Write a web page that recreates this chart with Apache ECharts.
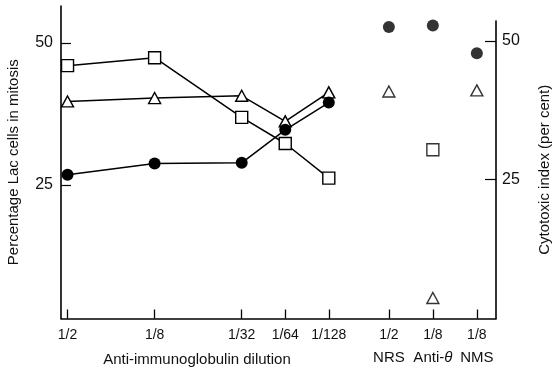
<!DOCTYPE html>
<html>
<head>
<meta charset="utf-8">
<script src="https://cdn.jsdelivr.net/npm/echarts@6/dist/echarts.min.js"></script>
<style>
html,body{margin:0;padding:0;background:#fff;}
#chart{width:552px;height:370px;}
</style>
</head>
<body>
<div id="chart"></div>
<script>
// ---- data ----
const xLeftLabels = ['1/2', '1/8', '1/32', '1/64', '1/128'];
const xLeft = [1, 3, 5, 6, 7];            // log2 of dilution denominator
const xRightLabels = ['1/2', '1/8', '1/8'];
const xRightGroups = ['NRS', 'Anti-', 'NMS'];
const xRight = [8.38, 9.39, 10.4];
const squareLeft = [46.0, 47.4, 36.9, 32.3, 26.2];
const triangleLeft = [39.7, 40.3, 40.7, 36.2, 41.3];
const circleLeft = [26.8, 28.8, 28.9, 34.7, 39.5];
const circleRight = [52.5, 52.8, 47.8];
const triangleRight = [40.9, 3.7, 41.1];
const squareRight = [null, 30.4, null];
const yTicks = [25, 50];

// ---- build ----
const FONT = 'Liberation Sans';
const allX = xLeft.concat(xRight);
function pairs(xs, ys) { return xs.map((x, i) => [x, ys[i]]).filter(p => p[1] != null); }
function xLabel(v) {
  let best = 0, bd = 1e9;
  allX.forEach((x, i) => { const d = Math.abs(x - v); if (d < bd) { bd = d; best = i; } });
  if (best < xLeft.length) return '{a|' + xLeftLabels[best] + '}';
  const j = best - xLeft.length;
  const g = xRightGroups[j];
  if (g === 'Anti-') return '{a|' + xRightLabels[j] + '}\n{b|Anti-}{c|θ}';
  return '{a|' + xRightLabels[j] + '}\n{b|' + g + '}';
}
const lineCommon = {
  type: 'line', xAxisIndex: 0, yAxisIndex: 0, symbolSize: 11,
  lineStyle: { color: '#000', width: 1.5 },
  emphasis: { disabled: true }, z: 3
};
const hollow = { color: '#fff', borderColor: '#000', borderWidth: 1.4 };
const filled = { color: '#000', borderColor: '#000', borderWidth: 0 };

const chart = echarts.init(document.getElementById('chart'), null, { renderer: 'canvas' });
chart.setOption({
  animation: false,
  backgroundColor: '#fff',
  textStyle: { fontFamily: FONT, color: '#111' },
  grid: [
    { left: 61, right: 56, top: 6, bottom: 51.5, containLabel: false, outerBoundsMode: 'none' },
    { left: 61, right: 56, top: 21, bottom: 51.5, containLabel: false, outerBoundsMode: 'none' }
  ],
  xAxis: [
    {
      type: 'value', gridIndex: 0, min: 0.85, max: 10.84,
      axisLine: { show: true, lineStyle: { color: '#000', width: 1.6 } },
      axisTick: { show: true, inside: true, length: 9, customValues: allX, lineStyle: { color: '#000', width: 1.3 } },
      axisLabel: {
        show: true, customValues: allX, margin: 5, formatter: xLabel, color: '#111',
        rich: {
          a: { fontFamily: FONT, fontSize: 14, lineHeight: 23, color: '#111' },
          b: { fontFamily: FONT, fontSize: 15, lineHeight: 23, color: '#111' },
          c: { fontFamily: FONT, fontSize: 15, lineHeight: 23, fontStyle: 'italic', color: '#111' }
        }
      },
      splitLine: { show: false },
      name: 'Anti-immunoglobulin dilution', nameLocation: 'middle', nameGap: 34, nameMoveOverlap: false,
      nameTextStyle: { fontFamily: FONT, fontSize: 15, color: '#111', padding: [0, 163, 0, 0] }
    },
    {
      type: 'value', gridIndex: 1, min: 0.85, max: 10.84, show: false
    }
  ],
  yAxis: [
    {
      type: 'value', gridIndex: 0, position: 'left', min: 1.5, max: 56.5,
      axisLine: { show: true, lineStyle: { color: '#000', width: 1.6 } },
      axisTick: { show: true, inside: true, length: 10, customValues: yTicks, lineStyle: { color: '#000', width: 1.2 } },
      axisLabel: { show: true, customValues: yTicks, margin: 8, fontSize: 16, fontFamily: FONT, color: '#111' },
      splitLine: { show: false },
      name: 'Percentage Lac cells in mitosis', nameLocation: 'middle', nameGap: 40, nameRotate: 90, nameMoveOverlap: false,
      nameTextStyle: { fontFamily: FONT, fontSize: 15, color: '#111' }
    },
    {
      type: 'value', gridIndex: 1, position: 'right', min: 0, max: 53.6,
      axisLine: { show: true, lineStyle: { color: '#000', width: 1.6 } },
      axisTick: { show: true, inside: true, length: 11, customValues: yTicks, lineStyle: { color: '#000', width: 1.2 } },
      axisLabel: { show: true, customValues: yTicks, margin: 6, fontSize: 16, fontFamily: FONT, color: '#111' },
      splitLine: { show: false },
      name: 'Cytotoxic index (per cent)', nameLocation: 'middle', nameGap: 41, nameRotate: 90, nameMoveOverlap: false,
      nameTextStyle: { fontFamily: FONT, fontSize: 15, color: '#111' }
    }
  ],
  series: [
    Object.assign({}, lineCommon, { name: 'square', symbol: 'rect', symbolSize: 12, itemStyle: hollow, data: pairs(xLeft, squareLeft) }),
    Object.assign({}, lineCommon, { name: 'triangle', symbol: 'triangle', symbolSize: [12, 11], itemStyle: hollow, data: pairs(xLeft, triangleLeft) }),
    Object.assign({}, lineCommon, { name: 'circle', symbol: 'circle', symbolSize: 12, itemStyle: filled, data: pairs(xLeft, circleLeft) }),
    { type: 'scatter', xAxisIndex: 1, yAxisIndex: 1, symbol: 'circle', symbolSize: 12, itemStyle: filled, data: pairs(xRight, circleRight), emphasis: { disabled: true } },
    { type: 'scatter', xAxisIndex: 1, yAxisIndex: 1, symbol: 'triangle', symbolSize: [12, 11], itemStyle: hollow, data: pairs(xRight, triangleRight), emphasis: { disabled: true } },
    { type: 'scatter', xAxisIndex: 1, yAxisIndex: 1, symbol: 'rect', symbolSize: 12, itemStyle: hollow, data: pairs(xRight, squareRight), emphasis: { disabled: true } }
  ]
});
</script>
</body>
</html>
